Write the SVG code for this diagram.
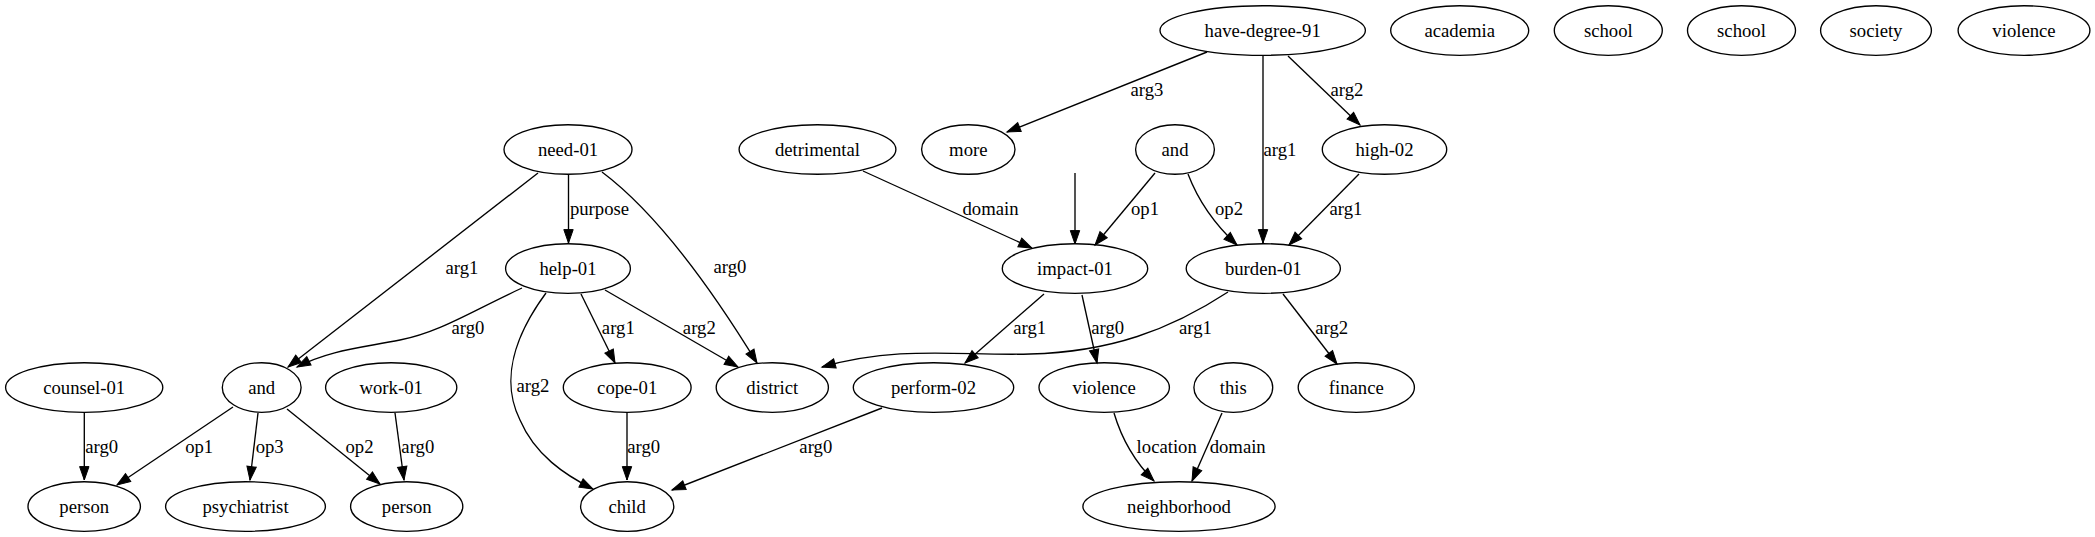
<svg xmlns="http://www.w3.org/2000/svg" width="2095" height="537" viewBox="0 0 2095 537">
<style>
.n ellipse{fill:none;stroke:#000;stroke-width:1.35}
text{font-family:"Liberation Serif","Times New Roman",serif;font-size:18.7px;text-anchor:middle;fill:#000}
#edges path{fill:none;stroke:#000;stroke-width:1.35;marker-end:url(#ah)}
</style>
<defs>
<marker id="ah" markerUnits="userSpaceOnUse" markerWidth="16" markerHeight="12" refX="13.4" refY="4.7" orient="auto" overflow="visible"><path d="M0,0 L13.4,4.7 L0,9.4 z" fill="#000" stroke="#000" stroke-width="1"/></marker>
</defs>
<rect width="2095" height="537" fill="#fff"/>
<g id="edges">
<path d="M1207,52 L1007,132"/><text x="1147" y="96">arg3</text>
<path d="M1263,56 L1263,243"/><text x="1280" y="156">arg1</text>
<path d="M1288,56 L1360,125"/><text x="1347" y="96">arg2</text>
<path d="M538,173 L288,367"/><text x="462" y="274">arg1</text>
<path d="M568.5,175 L568.5,243"/><text x="599.5" y="215">purpose</text>
<path d="M602,172 C650,208 700,270 757,363"/><text x="730" y="273">arg0</text>
<path d="M863,171 L1032,248"/><text x="990.5" y="215">domain</text>
<path d="M1075,173 L1075,244"/>
<path d="M1155,173 L1095,245"/><text x="1145" y="215">op1</text>
<path d="M1188,174 C1196,195 1210,220 1237,245"/><text x="1229" y="215">op2</text>
<path d="M1359,174 L1289,245"/><text x="1346" y="215">arg1</text>
<path d="M522,288 C470,312 440,332 400,340 C360,348 330,350 297,367"/><text x="468" y="334">arg0</text>
<path d="M581,294 L615,363"/><text x="618.3" y="334">arg1</text>
<path d="M605,290 L738,367"/><text x="699.3" y="334">arg2</text>
<path d="M546,293 C515,335 500,380 520,420 C535,455 565,475 593,489"/><text x="533" y="392">arg2</text>
<path d="M1044,294 L965,363"/><text x="1029.7" y="334">arg1</text>
<path d="M1082,295 L1097,363"/><text x="1107.7" y="334">arg0</text>
<path d="M1228,292 C1170,330 1110,352 1030,354 C960,356 900,345 822,367"/><text x="1195.5" y="334">arg1</text>
<path d="M1283,294 L1337,364"/><text x="1331.7" y="334">arg2</text>
<path d="M84.3,413 L84.3,480"/><text x="101.7" y="453">arg0</text>
<path d="M233,407 L117,485"/><text x="199.2" y="453">op1</text>
<path d="M258,413 L250,480"/><text x="269.7" y="453">op3</text>
<path d="M287,409 L380,484"/><text x="359.5" y="453">op2</text>
<path d="M395,413 L404,480"/><text x="417.8" y="453">arg0</text>
<path d="M627,413 L627,480"/><text x="643.7" y="453">arg0</text>
<path d="M882,408 L672,490"/><text x="815.8" y="453">arg0</text>
<path d="M1114,413 C1122,440 1135,462 1154,481"/><text x="1166.7" y="453">location</text>
<path d="M1222,413 L1192,481"/><text x="1237.7" y="453">domain</text>
</g>
<g id="n_have" class="n"><ellipse cx="1262.7" cy="30.5" rx="102.7" ry="24.8"/><text x="1262.7" y="36.5">have-degree-91</text></g>
<g id="n_academia" class="n"><ellipse cx="1459.7" cy="30.5" rx="69" ry="24.8"/><text x="1459.7" y="36.5">academia</text></g>
<g id="n_school1" class="n"><ellipse cx="1608.3" cy="30.5" rx="54" ry="24.8"/><text x="1608.3" y="36.5">school</text></g>
<g id="n_school2" class="n"><ellipse cx="1741.5" cy="30.5" rx="54" ry="24.8"/><text x="1741.5" y="36.5">school</text></g>
<g id="n_society" class="n"><ellipse cx="1876" cy="30.5" rx="55.4" ry="24.8"/><text x="1876" y="36.5">society</text></g>
<g id="n_violence1" class="n"><ellipse cx="2024" cy="30.5" rx="65.9" ry="24.8"/><text x="2024" y="36.5">violence</text></g>
<g id="n_need" class="n"><ellipse cx="568" cy="149.5" rx="64" ry="24.8"/><text x="568" y="155.5">need-01</text></g>
<g id="n_detrimental" class="n"><ellipse cx="817.5" cy="149.5" rx="78.4" ry="24.8"/><text x="817.5" y="155.5">detrimental</text></g>
<g id="n_more" class="n"><ellipse cx="968.3" cy="149.5" rx="46.7" ry="24.8"/><text x="968.3" y="155.5">more</text></g>
<g id="n_and1" class="n"><ellipse cx="1175" cy="149.5" rx="39.4" ry="24.8"/><text x="1175" y="155.5">and</text></g>
<g id="n_high" class="n"><ellipse cx="1384.5" cy="149.5" rx="62.2" ry="24.8"/><text x="1384.5" y="155.5">high-02</text></g>
<g id="n_help" class="n"><ellipse cx="568" cy="268.5" rx="62.4" ry="24.8"/><text x="568" y="274.5">help-01</text></g>
<g id="n_impact" class="n"><ellipse cx="1075" cy="268.5" rx="72.7" ry="24.8"/><text x="1075" y="274.5">impact-01</text></g>
<g id="n_burden" class="n"><ellipse cx="1263.3" cy="268.5" rx="77.1" ry="24.8"/><text x="1263.3" y="274.5">burden-01</text></g>
<g id="n_counsel" class="n"><ellipse cx="84.2" cy="387.5" rx="78.6" ry="24.8"/><text x="84.2" y="393.5">counsel-01</text></g>
<g id="n_and2" class="n"><ellipse cx="261.7" cy="387.5" rx="39.4" ry="24.8"/><text x="261.7" y="393.5">and</text></g>
<g id="n_work" class="n"><ellipse cx="391.2" cy="387.5" rx="65.6" ry="24.8"/><text x="391.2" y="393.5">work-01</text></g>
<g id="n_cope" class="n"><ellipse cx="627.2" cy="387.5" rx="63.9" ry="24.8"/><text x="627.2" y="393.5">cope-01</text></g>
<g id="n_district" class="n"><ellipse cx="772.3" cy="387.5" rx="56.1" ry="24.8"/><text x="772.3" y="393.5">district</text></g>
<g id="n_perform" class="n"><ellipse cx="933.5" cy="387.5" rx="80.2" ry="24.8"/><text x="933.5" y="393.5">perform-02</text></g>
<g id="n_violence2" class="n"><ellipse cx="1104.2" cy="387.5" rx="65.2" ry="24.8"/><text x="1104.2" y="393.5">violence</text></g>
<g id="n_this" class="n"><ellipse cx="1233.3" cy="387.5" rx="39.4" ry="24.8"/><text x="1233.3" y="393.5">this</text></g>
<g id="n_finance" class="n"><ellipse cx="1356.3" cy="387.5" rx="58.1" ry="24.8"/><text x="1356.3" y="393.5">finance</text></g>
<g id="n_person1" class="n"><ellipse cx="84.2" cy="506.5" rx="56.2" ry="24.8"/><text x="84.2" y="512.5">person</text></g>
<g id="n_psychiatrist" class="n"><ellipse cx="245.5" cy="506.5" rx="79.9" ry="24.8"/><text x="245.5" y="512.5">psychiatrist</text></g>
<g id="n_person2" class="n"><ellipse cx="406.7" cy="506.5" rx="56.1" ry="24.8"/><text x="406.7" y="512.5">person</text></g>
<g id="n_child" class="n"><ellipse cx="627.2" cy="506.5" rx="46.6" ry="24.8"/><text x="627.2" y="512.5">child</text></g>
<g id="n_neighborhood" class="n"><ellipse cx="1179" cy="506.5" rx="96.1" ry="24.8"/><text x="1179" y="512.5">neighborhood</text></g>
</svg>
